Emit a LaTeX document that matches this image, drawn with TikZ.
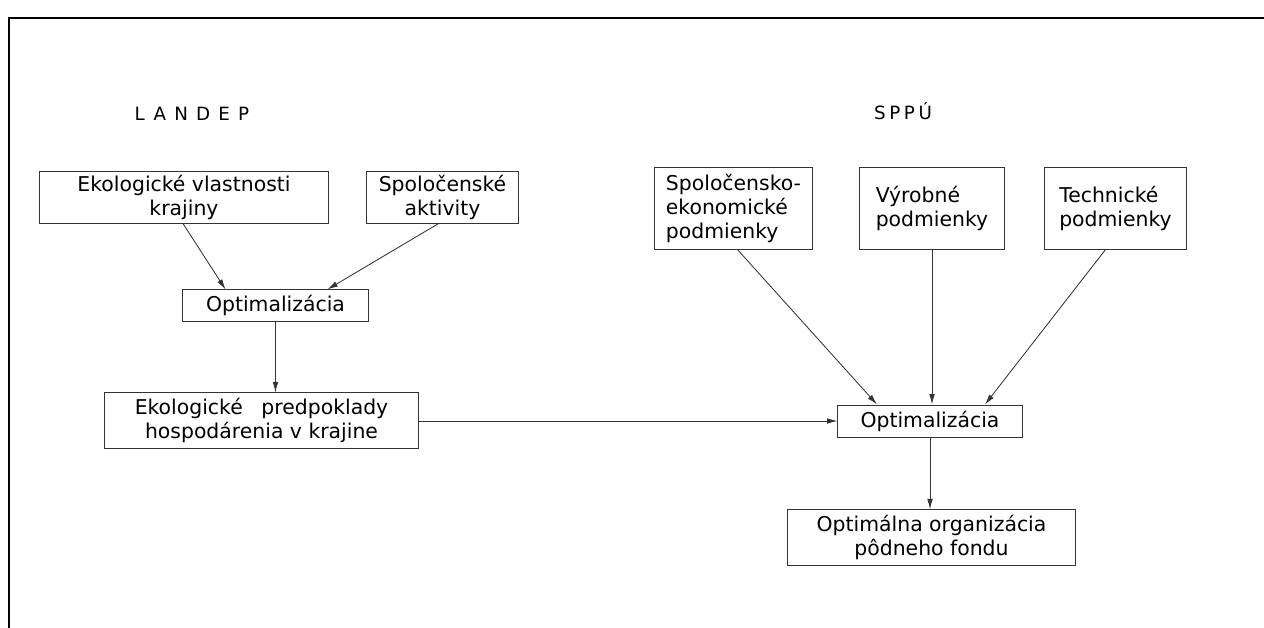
\documentclass[tikz,border=0pt]{standalone}
\usepackage{fontspec}
\setmainfont{DejaVu Sans}
\usepackage{xcolor}
\usepackage{tikz}
\usetikzlibrary{arrows.meta,calc}

\begin{document}
\begin{tikzpicture}[
  x=0.025cm, y=-0.025cm,
  font=\fontsize{14.5}{17}\selectfont,
  pbox/.style={draw=black!80, line width=0.7pt, align=center, inner sep=2pt},
  lbox/.style={pbox, align=left},
  arr/.style={-{Latex[length=2.6mm, width=1.4mm]}, line width=0.6pt, black!80},
  head/.style={font=\fontsize{13}{15}\selectfont\addfontfeature{LetterSpace=45}},
  frame/.style={line width=1.6pt}
]
\useasboundingbox (0,0) rectangle (1264,628);
% ----- frame, top and left only -----
\coordinate (ftop) at (1264,18);
\coordinate (fcorner) at (9,18);
\coordinate (fbot) at (9,628);
\draw[frame] (ftop) -- (fcorner) -- (fbot);
% ----- headings -----
\node[head] (landep) at (192,114) {LANDEP};
\node[head, font=\fontsize{13}{15}\selectfont\addfontfeature{LetterSpace=20}] (sppu) at (903,111) {SPPÚ};
% ----- LANDEP column -----
\node[pbox, minimum width=7.2cm, minimum height=1.28cm] (eko) at (184,197.5)
  {Ekologické vlastnosti\\krajiny};
\node[pbox, minimum width=3.78cm, minimum height=1.28cm] (spol) at (442.5,197.5)
  {Spoločenské\\aktivity};
\node[pbox, minimum width=4.63cm, minimum height=0.78cm] (optl) at (275.5,305.5)
  {Optimalizácia};
\node[pbox, minimum width=7.83cm, minimum height=1.38cm] (pred) at (261.5,420.5)
  {Ekologické\hspace{0.6em} predpoklady\\hospodárenia v krajine};
% ----- SPPU column -----
\node[lbox, minimum width=3.93cm, minimum height=2.03cm] (soek) at (733.5,208.5)
  {Spoločensko-\\ekonomické\\podmienky};
\node[lbox, minimum width=3.6cm, minimum height=2.03cm] (vyr) at (932,208.5)
  {Výrobné\\podmienky};
\node[lbox, minimum width=3.53cm, minimum height=2.03cm] (tech) at (1115.5,208.5)
  {Technické\\podmienky};
\node[pbox, minimum width=4.6cm, minimum height=0.8cm] (optr) at (930,421)
  {Optimalizácia};
\node[pbox, minimum width=7.18cm, minimum height=1.38cm] (orgf) at (931.5,537.5)
  {Optimálna organizácia\\pôdneho fondu};
% ----- connectors -----
\draw[arr] ($(eko.south)+(-1,0)$) -- ($(optl.north)+(-50,0)$);
\draw[arr] ($(spol.south)+(-4,0)$) -- ($(optl.north)+(52,0)$);
\draw[arr] (optl.south) -- (optl.south |- pred.north);
\draw[arr] (pred.east |- optr.west) -- (optr.west);
\draw[arr] ($(soek.south)+(4,0)$) -- ($(optr.north)+(-53,0)$);
\draw[arr] (vyr.south) -- (vyr.south |- optr.north);
\draw[arr] ($(tech.south)+(-10,0)$) -- ($(optr.north)+(55,0)$);
\draw[arr] (optr.south) -- (optr.south |- orgf.north);
\end{tikzpicture}
\end{document}
